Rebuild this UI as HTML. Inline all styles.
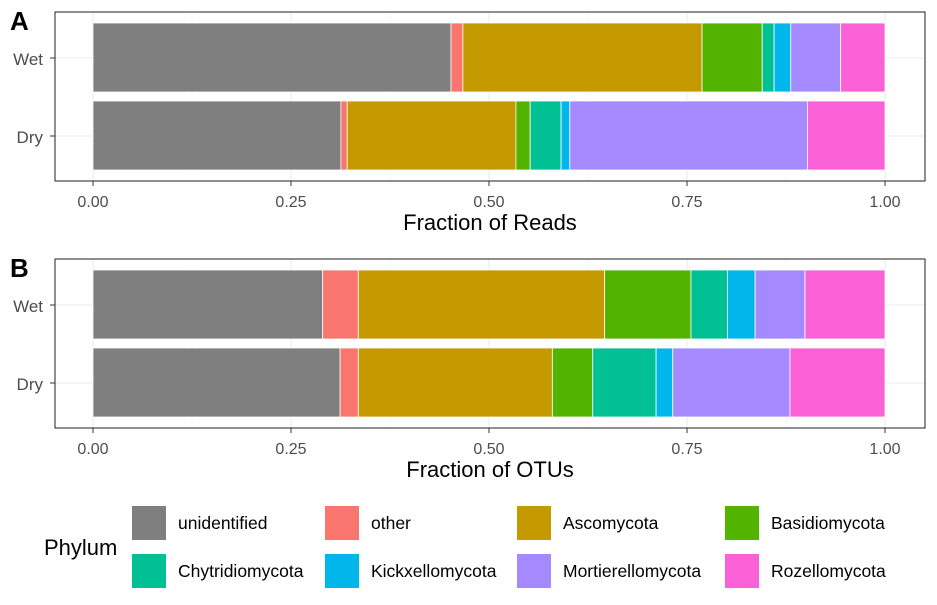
<!DOCTYPE html>
<html><head><meta charset="utf-8"><style>
body{margin:0;background:#fff;font-family:"Liberation Sans",sans-serif}
</style></head><body>
<svg id="chart" width="937" height="600" xmlns="http://www.w3.org/2000/svg" font-family="Liberation Sans, sans-serif"></svg>
<script>
const phyla=["unidentified","other","Ascomycota","Basidiomycota","Chytridiomycota","Kickxellomycota","Mortierellomycota","Rozellomycota"];
const colors=["#7f7f7f","#f8766d","#c49a00","#53b400","#00c094","#00b6eb","#a58aff","#fb61d7"];
const samples=["Wet","Dry"];
// cumulative end fractions per sample
const readsWet=[0.452,0.467,0.769,0.845,0.860,0.881,0.944,1.0];
const readsDry=[0.313,0.321,0.534,0.552,0.591,0.602,0.902,1.0];
const otusWet=[0.290,0.335,0.646,0.755,0.801,0.836,0.899,1.0];
const otusDry=[0.312,0.335,0.580,0.631,0.711,0.732,0.880,1.0];
const ticks=[0,0.25,0.5,0.75,1.0];
const tickLabels=["0.00","0.25","0.50","0.75","1.00"];
const svg=document.getElementById('chart');
const NS="http://www.w3.org/2000/svg";
function mk(t,a,p){const e=document.createElementNS(NS,t);for(const k in a)e.setAttribute(k,a[k]);(p||svg).appendChild(e);return e;}
const x=v=>93+v*792;
function panel(top,letter,title,wet,dry,key){
  const g=mk('g',{});
  
  
  mk('rect',{x:55,y:top,width:870,height:169,fill:'#fff'},g);
  [0.125,0.375,0.625,0.875].forEach(v=>mk('line',{x1:x(v),x2:x(v),y1:top,y2:top+169,stroke:'#f2f2f2','stroke-width':0.6},g));
  ticks.forEach(v=>mk('line',{x1:x(v),x2:x(v),y1:top,y2:top+169,stroke:'#ebebeb','stroke-width':1.1},g));
  const rows=[[wet,top+11],[dry,top+89]];
  rows.forEach(([r,y])=>mk('line',{x1:55,x2:925,y1:y+35,y2:y+35,stroke:'#ebebeb','stroke-width':1.1},g));
  rows.forEach(([r,y],ri)=>{
    let prev=0;
    r.forEach((c,i)=>{
      const b=mk('rect',{x:x(prev),y:y,width:x(c)-x(prev),height:69,fill:colors[i],stroke:'#fff','stroke-width':0.8},g);
      
      
      prev=c;
    });
    mk('line',{x1:50,x2:55,y1:y+35,y2:y+35,stroke:'#333'},g);
    const t=mk('text',{x:43,y:y+42,'text-anchor':'end','font-size':17,fill:'#4d4d4d'},g);t.textContent=samples[ri];
    
    
  });
  mk('rect',{x:55,y:top,width:870,height:169,fill:'none',stroke:'#333','stroke-width':1.1},g);
  ticks.forEach((v,i)=>{
    mk('line',{x1:x(v),x2:x(v),y1:top+169,y2:top+174,stroke:'#333'},g);
    const t=mk('text',{x:x(v),y:top+195,'text-anchor':'middle','font-size':16,fill:'#4d4d4d'},g);t.textContent=tickLabels[i];
  });
  const tt=mk('text',{x:490,y:top+218,'text-anchor':'middle','font-size':22,fill:'#000'},g);tt.textContent=title;
  
  
  const l=mk('text',{x:10,y:top+18,'font-size':26,'font-weight':'bold',fill:'#000'},g);l.textContent=letter;
}
panel(12,'A','Fraction of Reads',readsWet,readsDry,'reads');
panel(259,'B','Fraction of OTUs',otusWet,otusDry,'otus');
const lg=mk('g',{});


const lt=mk('text',{x:44,y:555,'font-size':22,fill:'#000'},lg);lt.textContent='Phylum';
const cols=[132,325,517,725];
phyla.forEach((p,i)=>{
  const cx=cols[i%4],cy=i<4?506:554;
  const e=mk('g',{},lg);
  
  
  mk('rect',{x:cx,y:cy,width:34,height:34,fill:colors[i]},e);
  const t=mk('text',{x:cx+46,y:cy+23,'font-size':17.5,fill:'#000'},e);t.textContent=p;
});
</script>
</body></html>
